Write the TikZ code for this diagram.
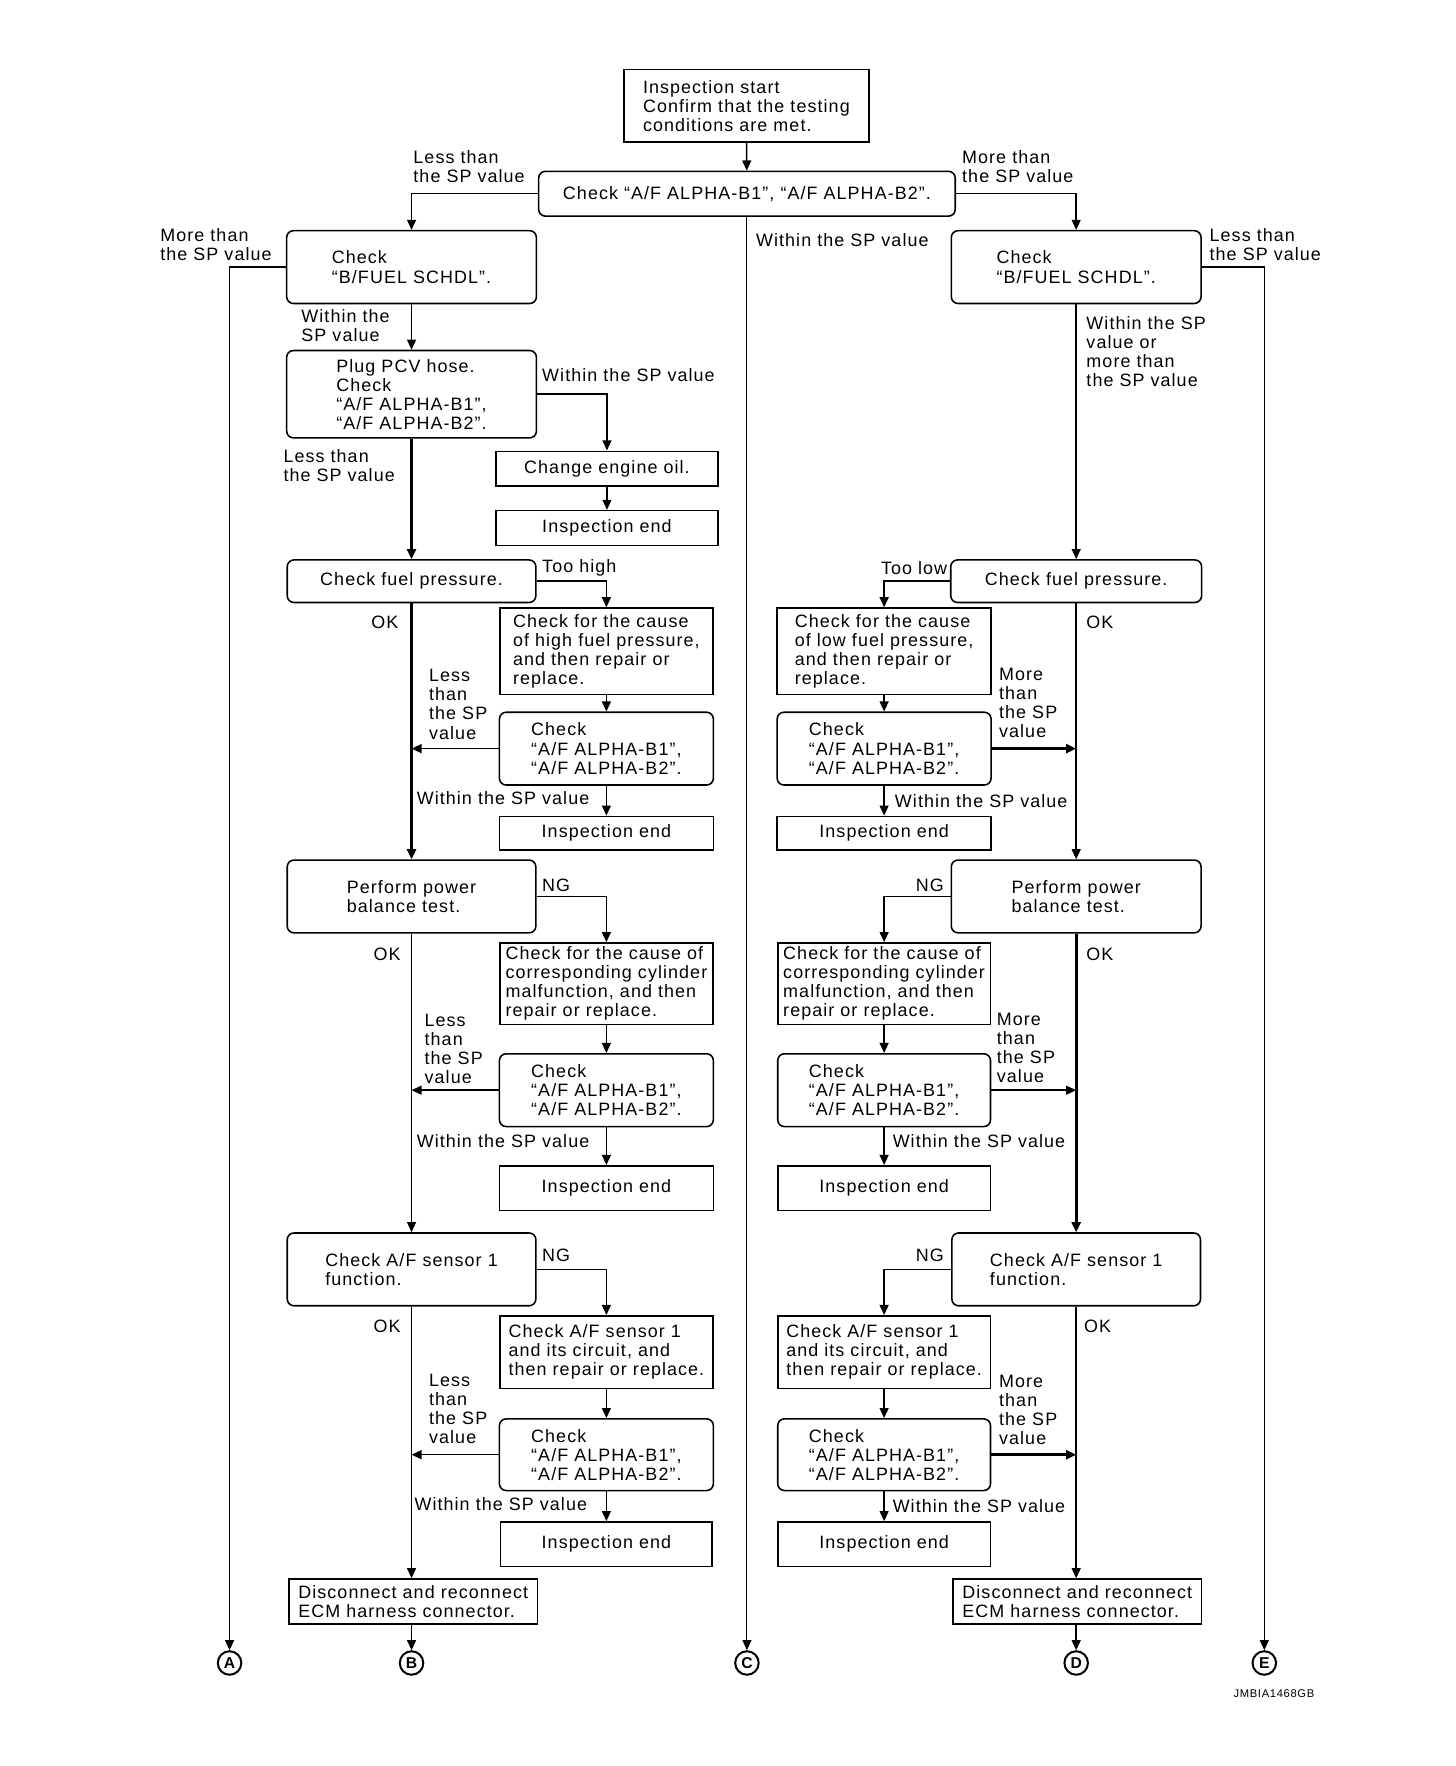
\documentclass[tikz,border=0pt]{standalone}
\usepackage{fontspec}
\setmainfont{Liberation Sans}[LetterSpace=6.0]
\usetikzlibrary{arrows.meta, positioning, calc}

\begin{document}
\begin{tikzpicture}[x=1pt, y=-1pt,
    font=\fontsize{16}{17}\selectfont,
    sz/.style 2 args={minimum width=#1pt, minimum height=#2pt},
    rbox/.style={draw, line width=1.4pt, rounded corners=6pt, align=left, inner sep=2pt},
    sbox/.style={draw, line width=1.4pt, align=left, inner sep=2pt},
    lbl/.style={align=left, inner sep=0pt, anchor=west},
    lblr/.style={align=left, inner sep=0pt, anchor=east},
    conn/.style={line width=1.3pt, -{Triangle[length=9pt, width=8pt]}},
    thk/.style={line width=2.4pt},
    endpt/.style={circle, draw, line width=1.8pt, inner sep=0pt, minimum size=21pt, font=\fontsize{14}{14}\selectfont\bfseries}
]
\useasboundingbox (0,0) rectangle (1300,1577);

% Start and first check
\node[sbox, sz={219}{65}] (start) at (666.5,94.5) {Inspection start\\Confirm that the testing\\conditions are met.};
\node[rbox, sz={372}{40}] (chk) at (667,173) {Check “A/F ALPHA-B1”, “A/F ALPHA-B2”.};
\node[rbox, sz={223}{65}] (fuelL) at (367.5,238.5) {Check\\“B/FUEL SCHDL”.};
\node[rbox, sz={223}{65}] (fuelR) at (961,238.5) {Check\\“B/FUEL SCHDL”.};

% Left column
\node[rbox, sz={223}{78}] (plug) at (367.5,352) {Plug PCV hose.\\Check\\“A/F ALPHA-B1”,\\“A/F ALPHA-B2”.};
\node[sbox, sz={198}{31}] (oil) at (542,418.5) {Change engine oil.};
\node[sbox, sz={198}{31}] (endOil) at (542,471.5) {Inspection end};
\node[rbox, sz={222}{38}] (presL) at (367.5,519) {Check fuel pressure.};
\node[sbox, sz={190}{77}] (causeL1) at (541.5,581.5) {Check for the cause\\of high fuel pressure,\\and then repair or\\replace.};
\node[rbox, sz={191}{65}] (alphaL1) at (541.5,668.5) {Check\\“A/F ALPHA-B1”,\\“A/F ALPHA-B2”.};
\node[sbox, sz={191}{30}] (endL1) at (541.5,744) {Inspection end};
\node[rbox, sz={222}{65}] (balL) at (367.5,800.5) {Perform power\\balance test.};
\node[sbox, sz={190}{73}] (causeL2) at (541.5,878.5) {Check for the cause of\\corresponding cylinder\\malfunction, and then\\repair or replace.};
\node[rbox, sz={191}{65}] (alphaL2) at (541.5,973.5) {Check\\“A/F ALPHA-B1”,\\“A/F ALPHA-B2”.};
\node[sbox, sz={191}{40}] (endL2) at (541.5,1061) {Inspection end};
\node[rbox, sz={222}{65}] (sensL) at (367.5,1133.5) {Check A/F sensor 1\\function.};
\node[sbox, sz={190}{65}] (causeL3) at (541.5,1207.5) {Check A/F sensor 1\\and its circuit, and\\then repair or replace.};
\node[rbox, sz={191}{64}] (alphaL3) at (541.5,1299) {Check\\“A/F ALPHA-B1”,\\“A/F ALPHA-B2”.};
\node[sbox, sz={189}{40}] (endL3) at (541.5,1379) {Inspection end};
\node[sbox, sz={222}{40}] (discL) at (369,1430) {Disconnect and reconnect\\ECM harness connector.};

% Right column
\node[rbox, sz={224}{38}] (presR) at (961,519) {Check fuel pressure.};
\node[sbox, sz={191}{77}] (causeR1) at (789.5,581.5) {Check for the cause\\of low fuel pressure,\\and then repair or\\replace.};
\node[rbox, sz={191}{65}] (alphaR1) at (789.5,668.5) {Check\\“A/F ALPHA-B1”,\\“A/F ALPHA-B2”.};
\node[sbox, sz={191}{30}] (endR1) at (789.5,744) {Inspection end};
\node[rbox, sz={223}{65}] (balR) at (961,800.5) {Perform power\\balance test.};
\node[sbox, sz={190}{73}] (causeR2) at (789.5,878.5) {Check for the cause of\\corresponding cylinder\\malfunction, and then\\repair or replace.};
\node[rbox, sz={190}{65}] (alphaR2) at (789.5,973.5) {Check\\“A/F ALPHA-B1”,\\“A/F ALPHA-B2”.};
\node[sbox, sz={190}{40}] (endR2) at (789.5,1061) {Inspection end};
\node[rbox, sz={222}{65}] (sensR) at (961,1133.5) {Check A/F sensor 1\\function.};
\node[sbox, sz={190}{65}] (causeR3) at (789.5,1207.5) {Check A/F sensor 1\\and its circuit, and\\then repair or replace.};
\node[rbox, sz={190}{64}] (alphaR3) at (789.5,1299) {Check\\“A/F ALPHA-B1”,\\“A/F ALPHA-B2”.};
\node[sbox, sz={190}{40}] (endR3) at (789.5,1379) {Inspection end};
\node[sbox, sz={222}{40}] (discR) at (962,1430) {Disconnect and reconnect\\ECM harness connector.};

% End points
\node[endpt] (A) at (205,1485) {A};
\node[endpt] (B) at (367.5,1485) {B};
\node[endpt] (C) at (667,1485) {C};
\node[endpt] (D) at (961,1485) {D};
\node[endpt] (E) at (1129,1485) {E};
\node[anchor=west, font=\fontsize{10}{10}\selectfont] (code) at (1098,1512) {JMBIA1468GB};

% Connectors, top part
\draw[conn] (start) -- (chk);
\draw[conn] (chk.west) -| (fuelL.north);
\draw[conn] (chk.east) -| (fuelR.north);
\draw[conn, line width=0.9pt] (chk.south) -- (C.north);
\draw[conn] (fuelL.west) -| (A.north);
\draw[conn] (fuelR.east) -| (E.north);

% Connectors, left column
\draw[conn] (fuelL) -- (plug);
\draw[conn] (plug.east) -| (oil.north);
\draw[conn] (oil) -- (endOil);
\draw[conn, thk] (plug) -- (presL);
\draw[conn] (presL.east) -| (causeL1.north);
\draw[conn] (causeL1) -- (alphaL1);
\draw[conn] (alphaL1.west) -- (alphaL1.west -| presL.south);
\draw[conn] (alphaL1) -- (endL1);
\draw[conn, thk] (presL) -- (balL);
\draw[conn] (balL.east) -| (causeL2.north);
\draw[conn] (causeL2) -- (alphaL2);
\draw[conn] (alphaL2.west) -- (alphaL2.west -| balL.south);
\draw[conn] (alphaL2) -- (endL2);
\draw[conn] (balL) -- (sensL);
\draw[conn] (sensL.east) -| (causeL3.north);
\draw[conn] (causeL3) -- (alphaL3);
\draw[conn] (alphaL3.west) -- (alphaL3.west -| sensL.south);
\draw[conn] (alphaL3) -- (endL3);
\draw[conn] (sensL) -- (discL.north -| sensL.south);
\draw[conn] (discL.south -| B.north) -- (B);

% Connectors, right column
\draw[conn] (fuelR) -- (presR);
\draw[conn] (presR.west) -| (causeR1.north);
\draw[conn] (causeR1) -- (alphaR1);
\draw[conn, thk] (alphaR1.east) -- (alphaR1.east -| presR.south);
\draw[conn] (alphaR1) -- (endR1);
\draw[conn] (presR) -- (balR);
\draw[conn] (balR.west) -| (causeR2.north);
\draw[conn] (causeR2) -- (alphaR2);
\draw[conn] (alphaR2.east) -- (alphaR2.east -| balR.south);
\draw[conn] (alphaR2) -- (endR2);
\draw[conn, thk] (balR) -- (sensR);
\draw[conn] (sensR.west) -| (causeR3.north);
\draw[conn] (causeR3) -- (alphaR3);
\draw[conn, thk] (alphaR3.east) -- (alphaR3.east -| sensR.south);
\draw[conn] (alphaR3) -- (endR3);
\draw[conn] (sensR.south) -- (discR.north -| sensR.south);
\draw[conn] (discR.south -| D.north) -- (D);

% Branch labels
\node[lbl] (tl1) at (369,149) {Less than\\the SP value};
\node[lbl] (tr1) at (859,149) {More than\\the SP value};
\node[lbl] (tl2) at (143,218) {More than\\the SP value};
\node[lbl] (tr2) at (1080,218) {Less than\\the SP value};
\node[lbl] (tc) at (675,214) {Within the SP value};
\node[lbl] (pl1) at (269,291) {Within the\\SP value};
\node[lbl] (pl2) at (484,335) {Within the SP value};
\node[lbl] (pl3) at (253,416) {Less than\\the SP value};
\node[lbl] (pr1) at (970,314) {Within the SP\\value or\\more than\\the SP value};

\node[lbl] (hi) at (484,507) {Too high};
\node[lblr] (lo) at (846,507) {Too low};
\node[lblr] (okL1) at (356,556) {OK};
\node[lbl] (okR1) at (970,556) {OK};
\node[lbl] (lessL1) at (383,629) {Less\\than\\the SP\\value};
\node[lbl] (moreR1) at (892,628) {More\\than\\the SP\\value};
\node[lbl] (inL1) at (372,713) {Within the SP value};
\node[lbl] (inR1) at (799,715) {Within the SP value};

\node[lbl] (ngL2) at (484,791) {NG};
\node[lblr] (ngR2) at (843,791) {NG};
\node[lblr] (okL2) at (358,852) {OK};
\node[lbl] (okR2) at (970,852) {OK};
\node[lbl] (lessL2) at (379,937) {Less\\than\\the SP\\value};
\node[lbl] (moreR2) at (890,936) {More\\than\\the SP\\value};
\node[lbl] (inL2) at (372,1019) {Within the SP value};
\node[lbl] (inR2) at (797,1019) {Within the SP value};

\node[lbl] (ngL3) at (484,1121) {NG};
\node[lblr] (ngR3) at (843,1121) {NG};
\node[lblr] (okL3) at (358,1184) {OK};
\node[lbl] (okR3) at (968,1184) {OK};
\node[lbl] (lessL3) at (383,1258) {Less\\than\\the SP\\value};
\node[lbl] (moreR3) at (892,1259) {More\\than\\the SP\\value};
\node[lbl] (inL3) at (370,1343) {Within the SP value};
\node[lbl] (inR3) at (797,1345) {Within the SP value};
\end{tikzpicture}
\end{document}
